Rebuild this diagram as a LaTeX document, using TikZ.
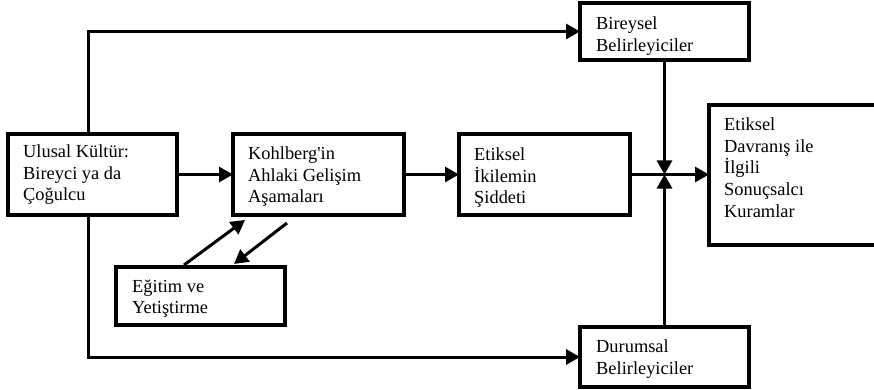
\documentclass[tikz,border=0pt]{standalone}
\usepackage{fontspec}
\setmainfont{Liberation Serif}[Ligatures=TeXOff]
\usetikzlibrary{arrows.meta}
\begin{document}
\begin{tikzpicture}[x=1pt,y=-1pt,
  box/.style={draw, line width=3.3pt, inner sep=0pt, outer sep=0pt},
  txt/.style={anchor=north west, inner sep=0pt, align=left,
    font=\fontsize{18.4pt}{21.7pt}\selectfont},
  conn/.style={line width=3pt},
  arr/.style={conn, -{Triangle[length=14pt,width=15pt]}}]
\useasboundingbox (0,0) rectangle (874,390);
\clip (0,0) rectangle (874,390);
% boxes
\node[box, minimum width=169pt, minimum height=81pt] (U) at (92.5,174.5) {};
\node[box, minimum width=171pt, minimum height=81pt] (K) at (318.5,174.5) {};
\node[box, minimum width=171pt, minimum height=81pt] (E) at (544.5,174.5) {};
\node[box, minimum width=169pt, minimum height=57pt] (B) at (664.5,31.5) {};
\node[box, minimum width=169pt, minimum height=60pt] (Du) at (664.5,357) {};
\node[box, minimum width=181pt, minimum height=140pt] (D) at (799.5,175) {};
\node[box, minimum width=169pt, minimum height=58pt] (Eg) at (200.5,296) {};
% texts
\node[txt] (Ut) at (23,144.4) {Ulusal Kültür:\\Bireyci ya da\\Çoğulcu};
\node[txt] (Kt) at (248,146.4) {Kohlberg'in\\Ahlaki Gelişim\\Aşamaları};
\node[txt] (Et) at (474,147.4) {Etiksel\\İkilemin\\Şiddeti};
\node[txt] (Bt) at (596,16.6) {Bireysel\\Belirleyiciler};
\node[txt] (Dut) at (596,339.4) {Durumsal\\Belirleyiciler};
\node[txt] (Dt) at (724,117.4) {Etiksel\\Davranış ile\\İlgili\\Sonuçsalcı\\Kuramlar};
\node[txt] (Egt) at (132,279.4) {Eğitim ve\\Yetiştirme};
% connectors
\coordinate (tx) at (88,30);
\draw[arr] (U.north -| tx) |- (B.west);
\draw[arr] (U.south -| tx) |- (Du.west);
\draw[arr] (U.east) -- (K.west);
\draw[arr] (K.east) -- (E.west);
\draw[arr] (E.east) -- (E.east -| D.west);
\draw[arr] (B.south) -- (B.south |- E.east);
\draw[arr] (Du.north) -- (Du.north |- E.east);
\coordinate (a1s) at (184,265);
\coordinate (a1e) at (245,220);
\coordinate (a2s) at (287,223);
\coordinate (a2e) at (234,264);
\draw[arr] (a1s) -- (a1e);
\draw[arr] (a2s) -- (a2e);
\end{tikzpicture}
\end{document}
